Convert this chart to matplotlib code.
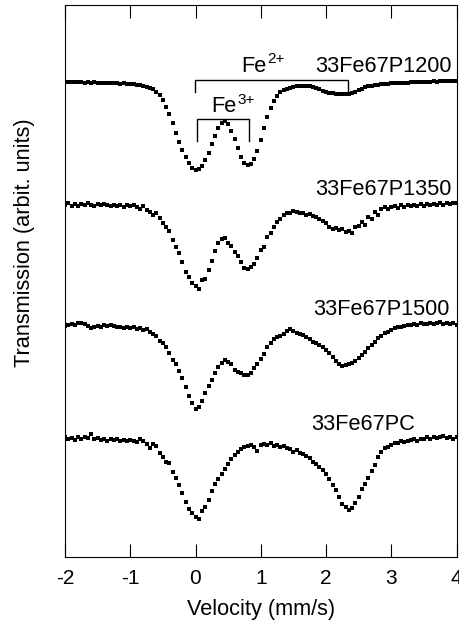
import matplotlib
matplotlib.use("Agg")
import matplotlib.pyplot as plt

plt.rcParams['font.family'] = ['Liberation Sans', 'DejaVu Sans']

# Velocity channels (mm/s)
velocity = [-2.00, -1.95, -1.90, -1.85, -1.80, -1.75, -1.70, -1.65, -1.60, -1.55,
            -1.50, -1.45, -1.40, -1.35, -1.30, -1.25, -1.20, -1.15, -1.10, -1.05,
            -1.00, -0.95, -0.90, -0.85, -0.80, -0.75, -0.70, -0.65, -0.60, -0.55,
            -0.50, -0.45, -0.40, -0.35, -0.30, -0.25, -0.20, -0.15, -0.10, -0.05,
            0.00, 0.05, 0.10, 0.15, 0.20, 0.25, 0.30, 0.35, 0.40, 0.45,
            0.50, 0.55, 0.60, 0.65, 0.70, 0.75, 0.80, 0.85, 0.90, 0.95,
            1.00, 1.05, 1.10, 1.15, 1.20, 1.25, 1.30, 1.35, 1.40, 1.45,
            1.50, 1.55, 1.60, 1.65, 1.70, 1.75, 1.80, 1.85, 1.90, 1.95,
            2.00, 2.05, 2.10, 2.15, 2.20, 2.25, 2.30, 2.35, 2.40, 2.45,
            2.50, 2.55, 2.60, 2.65, 2.70, 2.75, 2.80, 2.85, 2.90, 2.95,
            3.00, 3.05, 3.10, 3.15, 3.20, 3.25, 3.30, 3.35, 3.40, 3.45,
            3.50, 3.55, 3.60, 3.65, 3.70, 3.75, 3.80, 3.85, 3.90, 3.95, 4.00]

# Absorption readings (arbitrary units, larger = more absorption)
absorb_1200 = [65, 66, 66, 67, 66, 67, 68, 67, 68, 67, 68, 69, 68, 69, 70, 69, 70, 71, 70, 72,
               71, 73, 74, 75, 77, 80, 83, 88, 95, 106, 120, 140, 163, 190, 218, 245, 270, 292, 310, 323,
               329, 328, 318, 300, 278, 252, 228, 205, 190, 184, 192, 212, 238, 265, 290, 308, 315, 312, 298, 272,
               240, 205, 172, 145, 124, 108, 97, 90, 86, 83, 81, 79, 78, 78, 78, 79, 81, 84, 88, 92,
               95, 98, 100, 101, 102, 103, 103, 103, 100, 96, 91, 86, 82, 79, 77, 75, 74, 73, 72, 71,
               70, 70, 69, 69, 68, 68, 67, 67, 66, 67, 66, 65, 65, 64, 65, 64, 63, 64, 63, 62, 62]
absorb_1350 = [45, 40, 47, 43, 48, 42, 45, 40, 44, 48, 43, 46, 42, 45, 49, 44, 47, 45, 50, 46,
               48, 44, 52, 57, 47, 60, 66, 74, 70, 85, 98, 112, 124, 150, 172, 190, 215, 245, 262, 280,
               288, 298, 270, 268, 240, 212, 183, 160, 148, 145, 158, 168, 185, 197, 215, 235, 238, 232, 222, 205,
               180, 172, 140, 128, 110, 96, 86, 75, 68, 70, 62, 66, 70, 68, 74, 72, 78, 80, 86, 92,
               98, 112, 118, 115, 120, 118, 126, 122, 130, 112, 108, 96, 104, 82, 88, 66, 75, 58, 52, 56,
               50, 48, 53, 46, 50, 45, 48, 44, 49, 43, 47, 42, 46, 41, 45, 40, 44, 40, 43, 38, 40]
absorb_1500 = [48, 45, 42, 44, 40, 38, 43, 47, 55, 52, 48, 50, 46, 49, 45, 48, 52, 50, 55, 51,
               54, 52, 57, 55, 60, 58, 66, 72, 78, 92, 98, 110, 128, 150, 162, 182, 205, 230, 258, 278,
               298, 292, 272, 250, 228, 210, 190, 172, 158, 150, 155, 162, 180, 185, 190, 196, 196, 190, 175, 162,
               148, 132, 112, 98, 88, 82, 78, 72, 64, 58, 62, 68, 72, 75, 80, 86, 95, 100, 105, 112,
               120, 130, 140, 152, 162, 168, 165, 162, 160, 152, 145, 135, 125, 115, 105, 95, 85, 78, 70, 65,
               60, 55, 52, 50, 47, 45, 46, 42, 44, 40, 43, 41, 38, 42, 40, 37, 41, 39, 43, 40, 45]
absorb_pc = [52, 58, 55, 60, 52, 57, 50, 55, 42, 58, 54, 60, 56, 62, 58, 60, 57, 62, 59, 63,
             60, 62, 65, 58, 64, 72, 85, 72, 78, 98, 112, 125, 130, 155, 175, 195, 218, 245, 268, 280,
             290, 298, 272, 262, 240, 212, 192, 176, 162, 148, 132, 118, 106, 96, 88, 82, 78, 75, 80, 92,
             76, 72, 75, 70, 78, 74, 80, 78, 84, 88, 95, 90, 98, 102, 108, 115, 125, 132, 140, 150,
             162, 178, 195, 210, 232, 252, 262, 270, 265, 250, 232, 208, 192, 175, 152, 135, 112, 95, 85, 80,
             74, 70, 68, 64, 66, 62, 60, 58, 62, 56, 58, 52, 56, 50, 55, 52, 48, 54, 50, 56, 50]

sample_names = ["33Fe67P1200", "33Fe67P1350", "33Fe67P1500", "33Fe67PC"]
spectra = [absorb_1200, absorb_1350, absorb_1500, absorb_pc]
offsets = [497, 367, 247, 137]
scale = 1.0 / 3.0
label_pos = [(3.92, 485.3), (3.92, 362), (3.89, 242), (3.36, 127)]

W, H = 459, 623
FS = 15.7
fig = plt.figure(figsize=(W / 100, H / 100), dpi=100)
ax = fig.add_axes([65 / W, 1 - 557 / H, (456.5 - 65) / W, (557 - 5) / H])

for spec, off, size in zip(spectra, offsets, [2.9, 2.3, 2.3, 2.3]):
    y = [off - a * scale for a in spec]
    ax.plot(velocity, y, linestyle='none', marker='s', ms=size, color='black',
            markeredgewidth=0)

for name, (lx, ly) in zip(sample_names, label_pos):
    ax.text(lx, ly, name, ha='right', va='baseline', fontsize=FS)

# Fe2+ and Fe3+ brackets
ax.plot([-0.01, -0.01, 2.34, 2.34], [465, 477, 477, 464], color='black', lw=1.0)
ax.plot([0.03, 0.03, 0.82, 0.82], [416, 438.5, 438.5, 416], color='black', lw=1.0)
fe2 = ax.text(0.705, 485.3, 'Fe', ha='left', va='baseline', fontsize=FS)
ax.annotate('2+', xy=(1.0, 0.0), xycoords=fe2, xytext=(0.5, 13.5),
            textcoords='offset pixels', ha='left', va='baseline', fontsize=11)
fe3 = ax.text(0.245, 445, 'Fe', ha='left', va='baseline', fontsize=FS)
ax.annotate('3+', xy=(1.0, 0.0), xycoords=fe3, xytext=(0.5, 13.5),
            textcoords='offset pixels', ha='left', va='baseline', fontsize=11)

ax.set_xlim(-2, 4)
ax.set_ylim(0, 552)
ax.set_xticks([-2, -1, 0, 1, 2, 3, 4])
ax.set_xticklabels(['-2', '-1', '0', '1', '2', '3', '4'])
ax.set_yticks([])
ax.tick_params(axis='x', direction='in', top=True, bottom=True, length=9.5,
               width=0.8, labelsize=15, pad=8.5)
for sp in ax.spines.values():
    sp.set_linewidth(0.8)
ax.set_xlabel('Velocity (mm/s)', fontsize=FS, labelpad=8)
fig.text(25 / W, 1 - 243 / H, 'Transmission (arbit. units)', rotation=90,
         ha='center', va='center', fontsize=FS)

fig.savefig('out.png', dpi=100)
